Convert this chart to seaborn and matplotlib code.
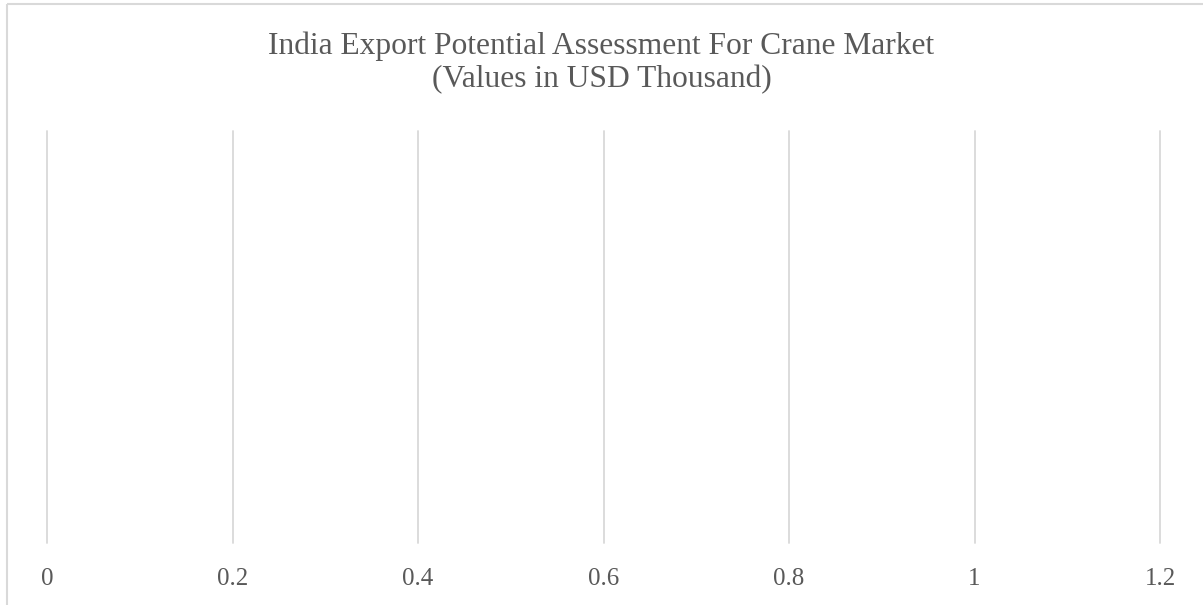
import matplotlib
matplotlib.use("Agg")
import matplotlib.pyplot as plt
import seaborn as sns
import pandas as pd
from matplotlib.patches import Rectangle

# Data (the reference chart has no bars drawn)
countries = []
export_values = []
x_ticks = [0, 0.2, 0.4, 0.6, 0.8, 1.0, 1.2]
x_tick_labels = ["0", "0.2", "0.4", "0.6", "0.8", "1", "1.2"]
title = "India Export Potential Assessment For Crane Market\n(Values in USD Thousand)"

sns.set_theme(style="white")
plt.rcParams["font.family"] = ["Liberation Serif", "DejaVu Serif"]

df = pd.DataFrame({"country": pd.Series(countries, dtype=str),
                   "value": pd.Series(export_values, dtype=float)})

fig = plt.figure(figsize=(12.03, 6.05), dpi=100)
ax = fig.add_axes([47 / 1203, 1 - 543 / 605, (1160 - 47) / 1203, (543 - 131) / 605])

sns.barplot(data=df, x="value", y="country", orient="h", ax=ax, color="#4472c4")

ax.set_xlim(0, 1.2)
ax.set_ylim(0, 1)
ax.set_xticks(x_ticks)
ax.set_xticklabels(x_tick_labels)
ax.set_yticks([])
ax.set_xlabel("")
ax.set_ylabel("")
for s in ax.spines.values():
    s.set_visible(False)
ax.grid(axis="x", color="#d9d9d9", linewidth=1.3)
for gl in ax.get_xgridlines():
    gl.set_clip_on(False)
ax.set_axisbelow(True)
ax.tick_params(axis="x", length=0, pad=18, labelsize=18, labelcolor="#595959")

fig.text(0.5, 1 - 63 / 605, title, ha="center", va="center", fontsize=22.7,
         color="#595959", linespacing=1.15)

fig.patches.append(Rectangle((7, 605 - 4), 2000, -2000, transform=None,
                             fill=False, edgecolor="#d9d9d9", linewidth=1.5))

fig.savefig("out.png", dpi=100)
